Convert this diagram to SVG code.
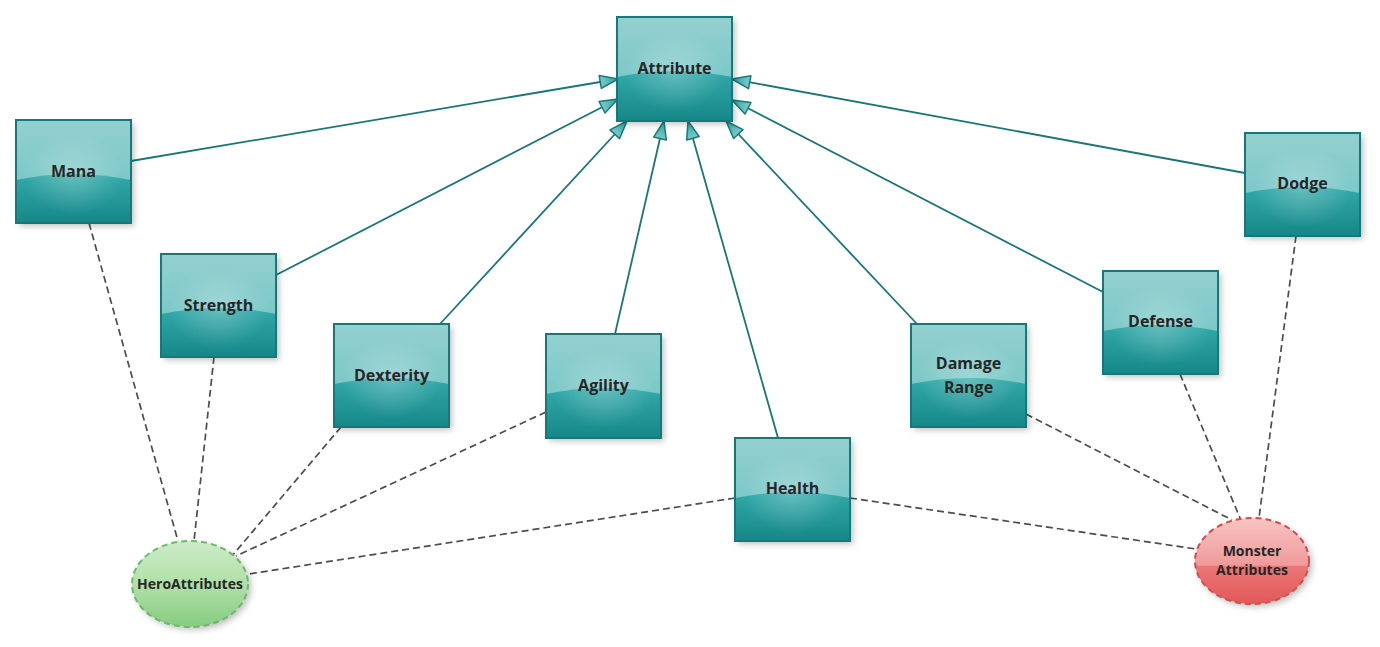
<svg xmlns="http://www.w3.org/2000/svg" width="1380" height="647" viewBox="0 0 1380 647">
<defs>
  <linearGradient id="gTop" x1="0" y1="0" x2="0" y2="1">
    <stop offset="0" stop-color="#94d0d0"/>
    <stop offset="1" stop-color="#6cc2c2"/>
  </linearGradient>
  <linearGradient id="gBot" x1="0" y1="0" x2="0" y2="1">
    <stop offset="0" stop-color="#33a9a9"/>
    <stop offset="1" stop-color="#168788"/>
  </linearGradient>
  <radialGradient id="gHi" cx="0.5" cy="0.5" r="0.5">
    <stop offset="0" stop-color="#ffffff" stop-opacity="0.25"/>
    <stop offset="1" stop-color="#ffffff" stop-opacity="0"/>
  </radialGradient>
  <linearGradient id="gGreen" x1="0" y1="0" x2="0" y2="1">
    <stop offset="0" stop-color="#cdebc8"/>
    <stop offset="0.5" stop-color="#b0e0a8"/>
    <stop offset="1" stop-color="#86cc80"/>
  </linearGradient>
  <linearGradient id="gRed" x1="0" y1="0" x2="0" y2="1">
    <stop offset="0" stop-color="#f8c4c4"/>
    <stop offset="0.55" stop-color="#f09a9a"/>
    <stop offset="0.56" stop-color="#ec7676"/>
    <stop offset="1" stop-color="#e25858"/>
  </linearGradient>
  <linearGradient id="gArrow" x1="0" y1="0" x2="1" y2="0">
    <stop offset="0" stop-color="#7ccaca"/>
    <stop offset="1" stop-color="#2a9f9f"/>
  </linearGradient>
  <filter id="sh" x="-20%" y="-20%" width="150%" height="150%">
    <feDropShadow dx="3" dy="3" stdDeviation="3" flood-color="#000" flood-opacity="0.25"/>
  </filter>
  <marker id="tri" markerUnits="userSpaceOnUse" markerWidth="22" markerHeight="16" refX="19" refY="7.5" orient="auto">
    <path d="M1,1 L19,7.5 L1,14 Z" fill="url(#gArrow)" stroke="#177a7a" stroke-width="1.5" stroke-linejoin="round"/>
  </marker>
</defs>
<style>
  .box { fill: url(#gTop); }
  .bot { fill: url(#gBot); }
  .hi { fill: url(#gHi); }
  .frame { fill: none; stroke: #167878; stroke-width: 2; }
  .lbl { font-family: "Open Sans", "Noto Sans", "Liberation Sans", sans-serif; font-weight: bold; font-size: 16px; fill: #262626; text-anchor: middle; }
  .slbl { font-family: "Open Sans", "Noto Sans", "Liberation Sans", sans-serif; font-weight: bold; font-size: 14px; fill: #262626; text-anchor: middle; }
  .gen { stroke: #187777; stroke-width: 1.8; fill: none; marker-end: url(#tri); }
  .dep { stroke: #4d4d4d; stroke-width: 1.7; fill: none; stroke-dasharray: 7 4; }
</style>
<rect x="0" y="0" width="1380" height="647" fill="#ffffff"/>

<g id="connectors">
  <line class="gen" x1="131" y1="161" x2="618" y2="79"/>
  <line class="gen" x1="276" y1="275" x2="618" y2="99"/>
  <line class="gen" x1="440" y1="324" x2="627" y2="121"/>
  <line class="gen" x1="615" y1="334" x2="664" y2="121"/>
  <line class="gen" x1="778" y1="438" x2="688" y2="121"/>
  <line class="gen" x1="917" y1="324" x2="726" y2="121"/>
  <line class="gen" x1="1103" y1="292" x2="732" y2="100"/>
  <line class="gen" x1="1245" y1="173" x2="732" y2="79"/>

  <line class="dep" x1="89" y1="223" x2="178" y2="541"/>
  <line class="dep" x1="214" y1="357" x2="194" y2="541"/>
  <line class="dep" x1="341" y1="427" x2="232" y2="556"/>
  <line class="dep" x1="546" y1="412" x2="236" y2="556"/>
  <line class="dep" x1="735" y1="498" x2="249" y2="574"/>
  <line class="dep" x1="850" y1="498" x2="1196" y2="549"/>
  <line class="dep" x1="1026" y1="414" x2="1232" y2="520"/>
  <line class="dep" x1="1180" y1="374" x2="1240" y2="518"/>
  <line class="dep" x1="1296" y1="236" x2="1259" y2="518"/>
</g>

<g id="attribute" transform="translate(617,17)">
  <g filter="url(#sh)"><rect class="box" width="115" height="104"/></g>
  <path class="bot" d="M0,60 Q57.5,48 115,60 V104 H0 Z"/>
  <ellipse class="hi" cx="57.5" cy="55" rx="50" ry="40"/>
  <rect class="frame" width="115" height="104"/>
  <text class="lbl" x="57.5" y="57">Attribute</text>
</g>

<g id="mana" transform="translate(16,120)">
  <g filter="url(#sh)"><rect class="box" width="115" height="103"/></g>
  <path class="bot" d="M0,60 Q57.5,48 115,60 V103 H0 Z"/>
  <ellipse class="hi" cx="57.5" cy="55" rx="50" ry="40"/>
  <rect class="frame" width="115" height="103"/>
  <text class="lbl" x="57.5" y="57">Mana</text>
</g>

<g id="strength" transform="translate(161,254)">
  <g filter="url(#sh)"><rect class="box" width="115" height="103"/></g>
  <path class="bot" d="M0,60 Q57.5,48 115,60 V103 H0 Z"/>
  <ellipse class="hi" cx="57.5" cy="55" rx="50" ry="40"/>
  <rect class="frame" width="115" height="103"/>
  <text class="lbl" x="57.5" y="57">Strength</text>
</g>

<g id="dexterity" transform="translate(334,324)">
  <g filter="url(#sh)"><rect class="box" width="115" height="103"/></g>
  <path class="bot" d="M0,60 Q57.5,48 115,60 V103 H0 Z"/>
  <ellipse class="hi" cx="57.5" cy="55" rx="50" ry="40"/>
  <rect class="frame" width="115" height="103"/>
  <text class="lbl" x="57.5" y="57">Dexterity</text>
</g>

<g id="agility" transform="translate(546,334)">
  <g filter="url(#sh)"><rect class="box" width="115" height="104"/></g>
  <path class="bot" d="M0,60 Q57.5,48 115,60 V104 H0 Z"/>
  <ellipse class="hi" cx="57.5" cy="55" rx="50" ry="40"/>
  <rect class="frame" width="115" height="104"/>
  <text class="lbl" x="57.5" y="57">Agility</text>
</g>

<g id="health" transform="translate(735,438)">
  <g filter="url(#sh)"><rect class="box" width="115" height="103"/></g>
  <path class="bot" d="M0,60 Q57.5,48 115,60 V103 H0 Z"/>
  <ellipse class="hi" cx="57.5" cy="55" rx="50" ry="40"/>
  <rect class="frame" width="115" height="103"/>
  <text class="lbl" x="57.5" y="56">Health</text>
</g>

<g id="damage-range" transform="translate(911,324)">
  <g filter="url(#sh)"><rect class="box" width="115" height="103"/></g>
  <path class="bot" d="M0,60 Q57.5,48 115,60 V103 H0 Z"/>
  <ellipse class="hi" cx="57.5" cy="55" rx="50" ry="40"/>
  <rect class="frame" width="115" height="103"/>
  <text class="lbl" x="57.5" y="45">Damage</text>
  <text class="lbl" x="57.5" y="69">Range</text>
</g>

<g id="defense" transform="translate(1103,271)">
  <g filter="url(#sh)"><rect class="box" width="115" height="103"/></g>
  <path class="bot" d="M0,60 Q57.5,48 115,60 V103 H0 Z"/>
  <ellipse class="hi" cx="57.5" cy="55" rx="50" ry="40"/>
  <rect class="frame" width="115" height="103"/>
  <text class="lbl" x="57.5" y="56">Defense</text>
</g>

<g id="dodge" transform="translate(1245,133)">
  <g filter="url(#sh)"><rect class="box" width="115" height="103"/></g>
  <path class="bot" d="M0,60 Q57.5,48 115,60 V103 H0 Z"/>
  <ellipse class="hi" cx="57.5" cy="55" rx="50" ry="40"/>
  <rect class="frame" width="115" height="103"/>
  <text class="lbl" x="57.5" y="56">Dodge</text>
</g>

<g id="hero-attributes">
  <ellipse cx="190" cy="584" rx="58" ry="43" fill="url(#gGreen)" filter="url(#sh)"/>
  <ellipse cx="190" cy="584" rx="58" ry="43" fill="none" stroke="#6cb96a" stroke-width="2" stroke-dasharray="6 4"/>
  <text class="slbl" x="190" y="589">HeroAttributes</text>
</g>

<g id="monster-attributes">
  <ellipse cx="1252" cy="561" rx="57" ry="43" fill="url(#gRed)" filter="url(#sh)"/>
  <ellipse cx="1252" cy="561" rx="57" ry="43" fill="none" stroke="#d24e4e" stroke-width="2" stroke-dasharray="6 4"/>
  <text class="slbl" x="1252" y="556">Monster</text>
  <text class="slbl" x="1252" y="575">Attributes</text>
</g>
</svg>
